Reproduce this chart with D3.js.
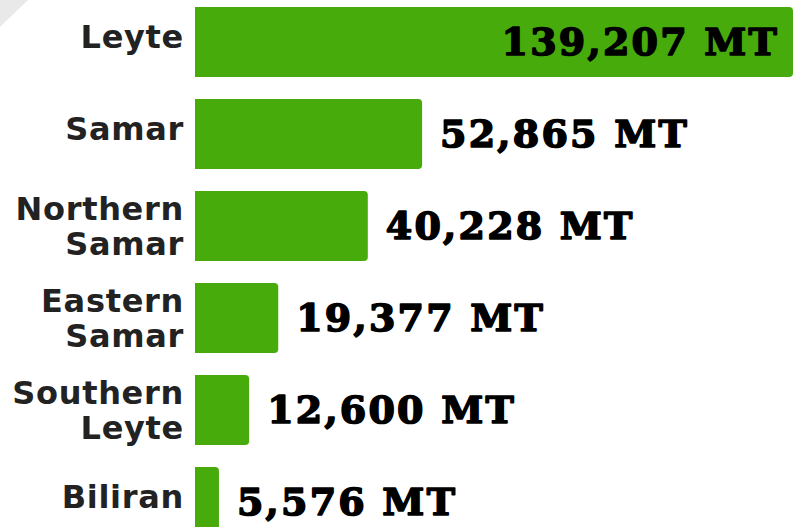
<!DOCTYPE html>
<html>
<head>
<meta charset="utf-8">
<script src="https://cdn.jsdelivr.net/npm/d3@7"></script>
<style>
  html, body { margin: 0; padding: 0; background: #ffffff; }
  svg { display: block; }
</style>
</head>
<body>
<svg id="chart" width="801" height="527"></svg>
<script>
// ---- data ----
const provinces = ["Leyte", "Samar", "Northern Samar", "Eastern Samar", "Southern Leyte", "Biliran"];
const labelLines = [["Leyte"], ["Samar"], ["Northern", "Samar"], ["Eastern", "Samar"], ["Southern", "Leyte"], ["Biliran"]];
const production = [139207, 52865, 40228, 19377, 12600, 5576];
const unit = "MT";

// ---- layout ----
const W = 801, H = 527;
const x0 = 195, xMaxPx = 793;
const step = 92, bandH = 70;
const svg = d3.select("#chart");

const x = d3.scaleLinear().domain([0, d3.max(production)]).range([x0, xMaxPx]);
const y = d3.scaleBand()
  .domain(provinces)
  .range([-4, -4 + step * provinces.length])
  .paddingInner((step - bandH) / step)
  .paddingOuter((step - bandH) / step / 2);

// corner decoration
svg.append("path").attr("d", "M0,0L28,0L0,27Z").attr("fill", "#e9e9e9");

const green = "#46ab0b";
const r = 4;
function barPath(x1, yTop, h) {
  const w = x1 - x0;
  const rr = Math.min(r, w / 2);
  return `M${x0},${yTop}H${x1 - rr}Q${x1},${yTop} ${x1},${yTop + rr}V${yTop + h - rr}Q${x1},${yTop + h} ${x1 - rr},${yTop + h}H${x0}Z`;
}

const fmt = d3.format(",");
const rows = provinces.map((p, i) => ({ p, v: production[i], lines: labelLines[i] }));

const g = svg.append("g");
g.selectAll("path.bar").data(rows).join("path")
  .attr("class", "bar")
  .attr("d", d => barPath(x(d.v), y(d.p), y.bandwidth()))
  .attr("fill", green);

// category labels
const labFont = "'DejaVu Sans', sans-serif";
rows.forEach(d => {
  const c = y(d.p) + y.bandwidth() / 2;
  const t = g.append("text")
    .attr("text-anchor", "end")
    .attr("font-family", labFont)
    .attr("font-weight", 700)
    .attr("font-size", 32)
    .attr("letter-spacing", "0.7px")
    .attr("fill", "#222222");
  if (d.lines.length === 1) {
    t.append("tspan").attr("x", 184).attr("y", c + 6).text(d.lines[0]);
  } else {
    t.append("tspan").attr("x", 184).attr("y", c - 6).text(d.lines[0]);
    t.append("tspan").attr("x", 184).attr("y", c + 29).text(d.lines[1]);
  }
});

// value labels
const valFont = "'DejaVu Serif', serif";
rows.forEach(d => {
  const c = y(d.p) + y.bandwidth() / 2;
  const txt = fmt(d.v) + " " + unit;
  const t = g.append("text")
    .attr("font-family", valFont)
    .attr("font-weight", 700)
    .attr("font-size", 38)
    .attr("letter-spacing", "2.2px")
    .attr("fill", "#000000")
    .attr("stroke", "#000000")
    .attr("stroke-width", 1.6)
    .attr("stroke-linejoin", "round")
    .attr("y", c + 13)
    .text(txt);
  t.attr("x", x(d.v) + 18);
  const w = t.node().getComputedTextLength();
  if (x(d.v) + 18 + w > W) {
    t.attr("text-anchor", "end").attr("x", x(d.v) - 14);
  }
});
</script>
</body>
</html>
